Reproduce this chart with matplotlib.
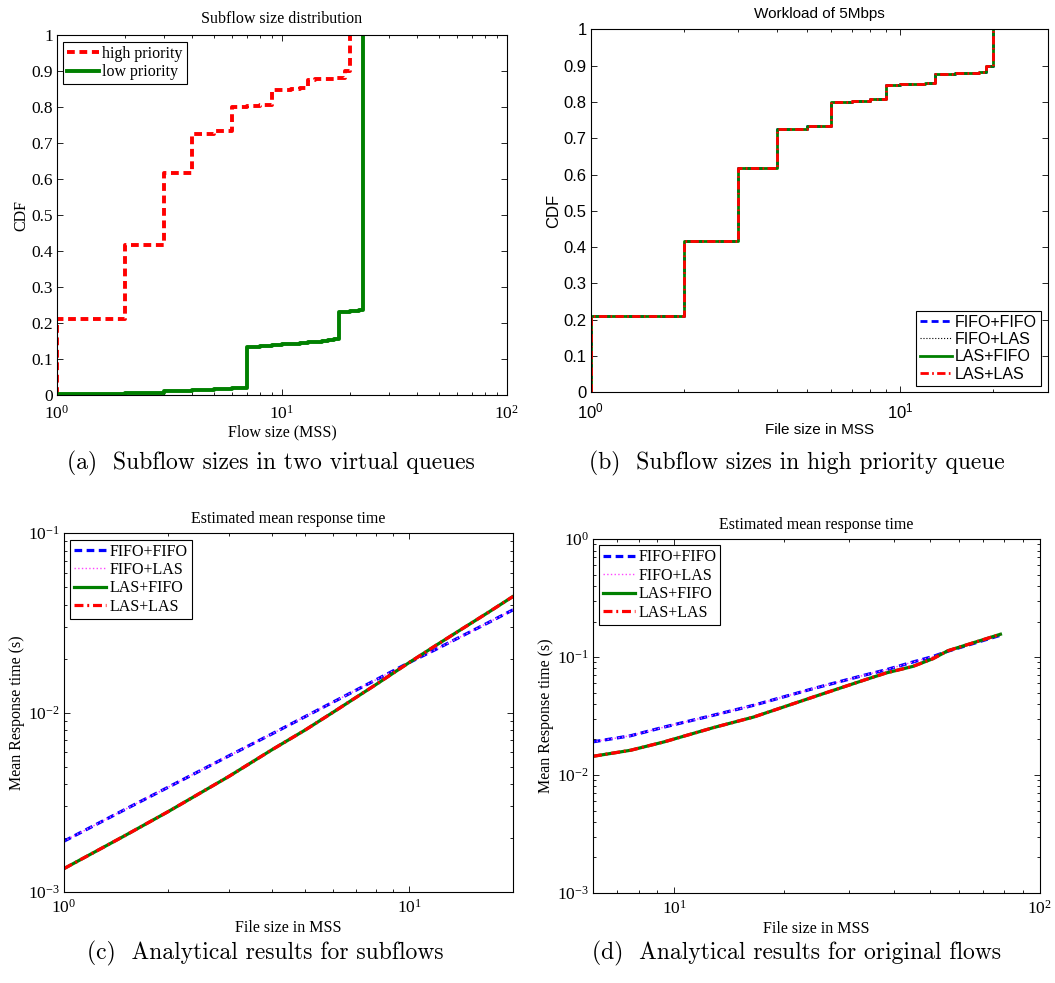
import numpy as np
import matplotlib.pyplot as plt
from matplotlib.ticker import LogLocator, NullFormatter, MultipleLocator, FormatStrFormatter

plt.rcParams['font.family'] = 'Liberation Serif'
plt.rcParams['mathtext.fontset'] = 'stix'

# (a),(b) subflow size CDF
hi_size = [1, 1, 2, 3, 4, 5, 6, 7, 8, 9, 10, 11, 12, 13, 14, 15, 16, 17, 18, 19, 20]
hi_cdf = [0, 0.211, 0.416, 0.617, 0.727, 0.735, 0.800, 0.803, 0.807, 0.847, 0.849,
          0.851, 0.853, 0.877, 0.878, 0.879, 0.880, 0.881, 0.882, 0.900, 1.0]
lo_size = [1, 2, 3, 4, 5, 6, 7, 8, 9, 10, 11, 12, 13, 14, 15, 16, 17, 18, 19, 20, 21, 22, 23]
lo_cdf = [0.004, 0.007, 0.011, 0.014, 0.017, 0.021, 0.134, 0.137, 0.139, 0.141, 0.143,
          0.145, 0.147, 0.149, 0.151, 0.153, 0.155, 0.231, 0.232, 0.233, 0.234, 0.236, 1.0]

# (c) analytical, subflows
sub_size = [1, 1.5, 2, 3, 4, 5, 6, 8, 10, 12, 14, 17, 20]
sub_fifo = [0.00192, 0.00288, 0.00383, 0.00573, 0.0076, 0.0095, 0.0114, 0.0152, 0.019,
            0.0226, 0.0263, 0.0318, 0.0374]
sub_las = [0.00135, 0.00206, 0.0028, 0.0044, 0.0062, 0.0080, 0.0100, 0.0143, 0.019,
           0.0238, 0.0287, 0.0363, 0.0444]

# (d) analytical, original flows
orig_size = [6, 7.6, 9.4, 12.8, 16.5, 24, 33, 38, 45, 51, 56, 78]
orig_fifo = [0.0191, 0.0215, 0.0255, 0.0321, 0.039, 0.054, 0.070, 0.078, 0.0908, 0.101, 0.112, 0.153]
orig_las = [0.0144, 0.0162, 0.0191, 0.0252, 0.031, 0.0458, 0.0636, 0.0733, 0.0834, 0.0968, 0.113, 0.156]

schemes = ['FIFO+FIFO', 'FIFO+LAS', 'LAS+FIFO', 'LAS+LAS']

fig = plt.figure(figsize=(10.55, 9.83), dpi=100)


def matlab_style(ax, size=12.5, xpad=5):
    ax.tick_params(which='both', direction='in', top=True, right=True, width=0.6,
                   labelsize=size)
    ax.tick_params(axis='y', pad=3)
    ax.tick_params(axis='x', pad=xpad)
    ax.tick_params(which='major', length=4)
    ax.tick_params(which='minor', length=2.2)
    for s in ax.spines.values():
        s.set_linewidth(0.8)


def make_legend(ax, loc, fam):
    leg = ax.legend(loc=loc, fancybox=False, edgecolor='k', framealpha=1,
                    handlelength=2.0, handletextpad=0.2, labelspacing=0.15,
                    borderpad=0.25, borderaxespad=0.4,
                    prop={'family': fam, 'size': 11.5})
    leg.get_frame().set_linewidth(0.8)
    return leg


# ---- (a)
ax1 = fig.add_axes([0.054, 0.598, 0.4265, 0.366])
ax1.step(hi_size, hi_cdf, where='post', color='r', lw=2.8, dashes=(2.0, 1.2),
         label='high priority')
ax1.step(lo_size, lo_cdf, where='post', color='#008000', lw=2.8, label='low priority')
ax1.set_xscale('log')
ax1.set_xlim(1, 100)
ax1.set_ylim(0, 1)
ax1.yaxis.set_major_locator(MultipleLocator(0.1))
ax1.yaxis.set_major_formatter(FormatStrFormatter('%g'))
matlab_style(ax1, xpad=7)
ax1.set_title('Subflow size distribution', fontsize=11.5, pad=9)
ax1.set_xlabel('Flow size (MSS)', fontsize=11.5, labelpad=1)
ax1.set_ylabel('CDF', fontsize=11.5, labelpad=1)
make_legend(ax1, 'upper left', 'Liberation Serif')

# ---- (b)
ax2 = fig.add_axes([0.560, 0.601, 0.433, 0.369])
styles_b = [dict(color='b', lw=2.0, dashes=(2.5, 1.5)),
            dict(color='k', lw=0.8, ls=':'),
            dict(color='#008000', lw=2.0),
            dict(color='r', lw=2.0, dashes=(3.0, 1.2, 0.6, 1.2))]
for name, st in zip(schemes, styles_b):
    ax2.step(hi_size, hi_cdf, where='post', label=name, **st)
ax2.set_xscale('log')
ax2.set_xlim(1, 30)
ax2.set_ylim(0, 1)
ax2.yaxis.set_major_locator(MultipleLocator(0.1))
ax2.yaxis.set_major_formatter(FormatStrFormatter('%g'))
matlab_style(ax2, 12, xpad=7)
for lbl in ax2.get_xticklabels() + ax2.get_yticklabels():
    lbl.set_family('Liberation Sans')
    lbl.set_math_fontfamily('dejavusans')
ax2.set_title('Workload of 5Mbps', fontsize=11, family='Liberation Sans', pad=8)
ax2.set_xlabel('File size in MSS', fontsize=11, family='Liberation Sans', labelpad=1)
ax2.set_ylabel('CDF', fontsize=12, family='Liberation Sans', labelpad=2)
make_legend(ax2, 'lower right', 'Liberation Sans')

# ---- (c) and (d)
styles_cd = [dict(color='b', lw=2.3, dashes=(2.4, 1.4)),
             dict(color='#ff44ff', lw=1.0, ls=':'),
             dict(color='#008000', lw=2.3),
             dict(color='r', lw=2.3, dashes=(2.8, 1.2, 0.6, 1.2))]


def response_panel(rect, xs, fifo, las, xlim, ylim):
    ax = fig.add_axes(rect)
    series = [fifo, fifo, las, las]
    for name, ys, st in zip(schemes, series, styles_cd):
        ax.plot(xs, ys, label=name, **st)
    ax.set_xscale('log')
    ax.set_yscale('log')
    ax.set_xlim(*xlim)
    ax.set_ylim(*ylim)
    ax.yaxis.set_minor_locator(LogLocator(base=10, subs=np.arange(2, 10)))
    ax.yaxis.set_minor_formatter(NullFormatter())
    ax.xaxis.set_minor_formatter(NullFormatter())
    matlab_style(ax)
    ax.set_title('Estimated mean response time', fontsize=11.5, pad=7)
    ax.set_xlabel('File size in MSS', fontsize=11.5, labelpad=2)
    ax.set_ylabel('Mean Response time (s)', fontsize=11.5, labelpad=2)
    make_legend(ax, 'upper left', 'Liberation Serif')
    return ax


ax3 = response_panel([0.0607, 0.0926, 0.4256, 0.365], sub_size, sub_fifo, sub_las,
                     (1, 20), (1e-3, 1e-1))
ax4 = response_panel([0.562, 0.0916, 0.4237, 0.360], orig_size, orig_fifo, orig_las,
                     (6, 100), (1e-3, 1))

# sub-captions
cap = dict(fontsize=17, family='cmr10', ha='center', va='center')
fig.text(0.257, 0.529, '(a)  Subflow sizes in two virtual queues', **cap)
fig.text(0.755, 0.529, '(b)  Subflow sizes in high priority queue', **cap)
fig.text(0.251, 0.0305, '(c)  Analytical results for subflows', **cap)
fig.text(0.755, 0.0305, '(d)  Analytical results for original flows', **cap)

fig.savefig('out.png', dpi=100)
